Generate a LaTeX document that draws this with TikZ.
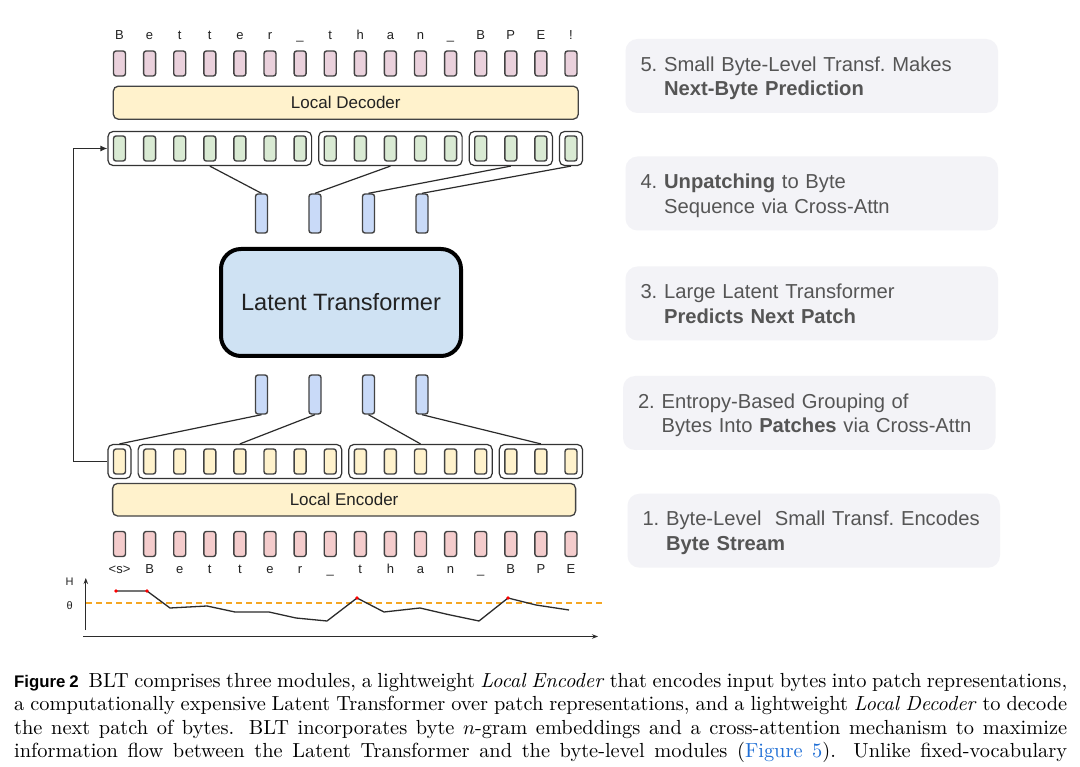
\documentclass[tikz,border=0pt]{standalone}
\usepackage{graphicx}
\usepackage{fontspec}
\newfontfamily\arial{Liberation Sans}
\usetikzlibrary{fit,arrows.meta}
\definecolor{pinkT}{HTML}{EAD1DC}
\definecolor{pinkB}{HTML}{F4CCCC}
\definecolor{grn}{HTML}{D9EAD3}
\definecolor{yel}{HTML}{FFF2CC}
\definecolor{blueS}{HTML}{C9DAF8}
\definecolor{latent}{HTML}{CFE2F3}
\definecolor{bord}{HTML}{434343}
\definecolor{grpc}{HTML}{333333}
\definecolor{linec}{HTML}{2B2B2B}
\definecolor{txt}{HTML}{222222}
\definecolor{panelc}{HTML}{F3F3F7}
\definecolor{paneltxt}{HTML}{555555}
\definecolor{orangec}{HTML}{F5A623}
\definecolor{linkblue}{HTML}{1F6FD6}
\newcommand{\stepnum}[1]{#1\ \null}
\newcommand{\steptext}[1]{\raisebox{-2.5pt}[\height][\depth]{\begin{tabular}{@{}l@{}l@{}}#1\end{tabular}}}
\newcommand{\capl}[1]{\scalebox{2}{\fontsize{10.2}{12}\selectfont\makebox[526.5pt][s]{#1}}}
\begin{document}
\begin{tikzpicture}[x=1pt,y=-1pt,
  byte/.style={draw=bord, line width=1.4pt, rounded corners=2.5pt, minimum width=12pt, minimum height=25pt, inner sep=0pt},
  grp/.style={draw=grpc, line width=1.2pt, rounded corners=5pt, inner xsep=4.8pt, inner ysep=3.8pt},
  patch/.style={draw=bord, line width=1.4pt, rounded corners=2.5pt, fill=blueS, minimum width=12pt, minimum height=39pt, inner sep=0pt},
  module/.style={draw=bord, line width=1.3pt, rounded corners=5pt, fill=yel, inner sep=0pt, font=\arial\fontsize{17}{20}\selectfont, text=txt},
  conn/.style={draw=linec, line width=1.2pt},
  letter/.style={font=\arial\fontsize{13}{14}\selectfont, text=txt, anchor=base, inner sep=0pt},
  axislbl/.style={font=\arial\fontsize{11}{12}\selectfont, text=txt, inner sep=0pt},
  panel/.style={fill=panelc, rounded corners=12pt, minimum height=74pt, text width=342.5pt, inner xsep=15pt, inner ysep=0pt, font=\arial\fontsize{20.2}{24.5}\selectfont\frenchspacing, text=paneltxt},
  capline/.style={anchor=base west, inner sep=0pt},
]
\useasboundingbox (0,0) rectangle (1080,767);
\fill[white] (0,0) rectangle (1080,767);

% byte rows
\foreach \c [count=\n from 0] in {B,e,t,t,e,r,\_,t,h,a,n,\_,B,P,E,!} {
  \node[letter] (tl\n) at ({119.5+30.1*\n},40) {\c};
  \node[byte, fill=pinkT] (pt\n) at ({119.5+30.1*\n},63.5) {};
  \node[byte, fill=grn] (gd\n) at ({119.5+30.1*\n},148.5) {};
  \node[byte, fill=yel] (ye\n) at ({119.5+30.1*\n},461.5) {};
  \node[byte, fill=pinkB] (pb\n) at ({119.5+30.1*\n},544) {};
}
\foreach \c [count=\n from 0] in {<s>,B,e,t,t,e,r,\_,t,h,a,n,\_,B,P,E} {
  \node[letter] (bl\n) at ({119.5+30.1*\n},573) {\c};
}

% patch groups
\node[grp, fit=(gd0)(gd6)] (dg1) {};
\node[grp, fit=(gd7)(gd11)] (dg2) {};
\node[grp, fit=(gd12)(gd14)] (dg3) {};
\node[grp, fit=(gd15)] (dg4) {};
\node[grp, fit=(ye0)] (eg1) {};
\node[grp, fit=(ye1)(ye7)] (eg2) {};
\node[grp, fit=(ye8)(ye12)] (eg3) {};
\node[grp, fit=(ye13)(ye15)] (eg4) {};

% modules
\node[module, minimum width=465pt, minimum height=33pt] (dec) at (345.8,102.7) {Local Decoder};
\node[module, minimum width=463pt, minimum height=32.6pt] (enc) at (344.1,499.7) {Local Encoder};
\node[draw=black, line width=4pt, rounded corners=20pt, fill=latent, minimum width=240pt, minimum height=107pt, font=\arial\fontsize{23.6}{26}\selectfont, text=txt] (LT) at (341,302.5) {Latent Transformer};

% patches
\foreach \x [count=\n] in {261.5,315,368.5,422} {
  \node[patch] (pd\n) at (\x,213.5) {};
  \node[patch] (pe\n) at (\x,394.5) {};
}
\foreach \n in {1,...,4} {
  \draw[conn] (dg\n.south) -- (pd\n.north);
  \draw[conn] (pe\n.south) -- (eg\n.north);
}
\draw[conn, -{Latex[length=7pt,width=6pt]}] (eg1.west) -- ++(-34,0) |- (dg1.west);

% entropy plot
\node[axislbl] (H) at (69.6,581.5) {H};
\node[axislbl] (th) at (69.6,606) {θ};
\draw[orangec, line width=1.3pt, dash pattern=on 6pt off 4pt] (86,603) -- (602,603);
\draw[linec, line width=1.2pt, -{Stealth[length=6pt,width=4.5pt]}] (85.8,630) -- (85.8,578);
\draw[linec, line width=1.2pt, -{Stealth[length=6pt,width=4.5pt]}] (83,636.5) -- (598,636.5);
\draw[linec, line width=1.3pt, line join=round] (116,591) -- (147,591) -- (170,608) -- (207,606) -- (235,612) -- (269,612) -- (296,618) -- (327,621) -- (357,598) -- (384,612) -- (420,608) -- (448,614.5) -- (479,621) -- (508,598) -- (536,605) -- (569,610);
\foreach \p in {(116,591),(147,591),(357,598),(508,598)} \fill[red] \p circle (1.8pt);

% step panels
\node[panel] (s5) at (811.75,76) {\steptext{\stepnum{5.} & Small Byte-Level Transf. Makes\\ & \textbf{Next-Byte Prediction}}};
\node[panel] (s4) at (811.75,193.5) {\steptext{\stepnum{4.} & \textbf{Unpatching} to Byte\\ & Sequence via Cross-Attn}};
\node[panel] (s3) at (811.75,303.5) {\steptext{\stepnum{3.} & Large Latent Transformer\\ & \textbf{Predicts Next Patch}}};
\node[panel] (s2) at (809.25,413) {\steptext{\stepnum{2.} & Entropy-Based Grouping of\\ & Bytes Into \textbf{Patches} via Cross-Attn}};
\node[panel] (s1) at (813.75,530.7) {\steptext{\stepnum{1.} & Byte-Level\ \ Small Transf. Encodes\\ & \textbf{Byte Stream}}};

% caption
\node[capline] (c1) at (14,687.5) {\capl{{\arial\bfseries\fontsize{8.4}{10}\selectfont Figure 2}\hspace{5pt}BLT comprises three modules, a lightweight \textit{Local Encoder} that encodes input bytes into patch representations,}};
\node[capline] (c2) at (14,710.8) {\capl{a computationally expensive Latent Transformer over patch representations, and a lightweight \textit{Local Decoder} to decode}};
\node[capline] (c3) at (14,734.1) {\capl{the next patch of bytes. BLT incorporates byte $n$-gram embeddings and a cross-attention mechanism to maximize}};
\node[capline] (c4) at (14,757.4) {\capl{information flow between the Latent Transformer and the byte-level modules ({\color{linkblue}Figure 5}). Unlike fixed-vocabulary}};
\end{tikzpicture}
\end{document}
